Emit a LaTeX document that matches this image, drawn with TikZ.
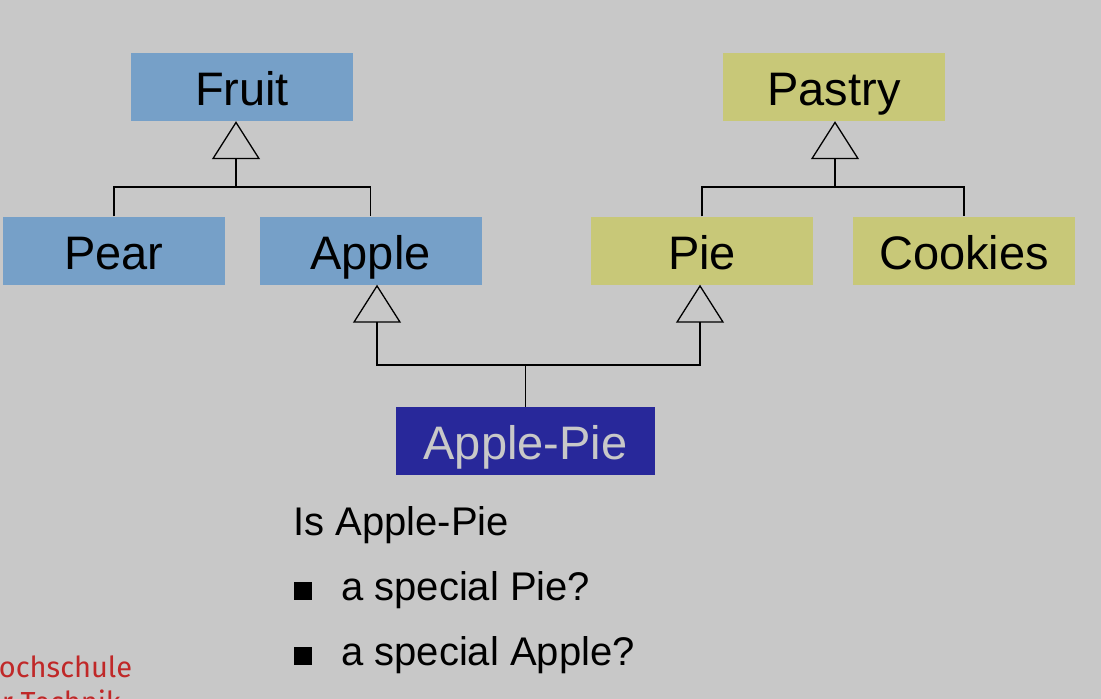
\documentclass[tikz,border=0pt]{standalone}
\usepackage{fontspec}
\setmainfont{Liberation Sans}
\newfontfamily\logofont{Fira Sans}
\usetikzlibrary{arrows.meta}
\definecolor{bggray}{RGB}{200,200,200}
\definecolor{fruitblue}{RGB}{118,160,200}
\definecolor{pastryolive}{RGB}{200,200,120}
\definecolor{pienavy}{RGB}{40,40,154}
\definecolor{logored}{RGB}{192,40,40}
\tikzset{
  classbox/.style={
    minimum width=222pt, minimum height=68pt, inner sep=0pt,
    text height=37pt, text depth=0pt,
    font=\fontsize{47}{56}\selectfont
  },
  fruitbox/.style={classbox, fill=fruitblue},
  pastrybox/.style={classbox, fill=pastryolive},
  listline/.style={anchor=base west, inner sep=0pt,
    font=\fontsize{40}{48}\selectfont},
  logoline/.style={anchor=base west, inner sep=0pt, text=logored,
    font=\logofont\fontsize{29}{33}\selectfont},
  gen/.style={line width=1.3pt,
    -{Triangle[open,length=38pt,width=48pt]}},
  link/.style={line width=1.3pt}
}

\begin{document}
\begin{tikzpicture}[x=1pt,y=-1pt]
\path[use as bounding box, fill=bggray] (0,0) rectangle (1101,699);
\clip (0,0) rectangle (1101,699);
% classes
\node[fruitbox] (fruit) at (242,87) {Fruit};
\node[pastrybox] (pastry) at (834,87) {Pastry};
\node[fruitbox] (pear) at (114,250.5) {Pear};
\node[fruitbox] (apple) at (370.5,250.5) {Apple};
\node[pastrybox] (pie) at (702,250.5) {Pie};
\node[pastrybox] (cookies) at (964,250.5) {Cookies};
\node[classbox, minimum width=259pt, fill=pienavy, text=bggray]
  (applepie) at (525.5,441) {Apple-Pie};
% inheritance lines
\coordinate (frjoin) at (236,187);
\coordinate (pajoin) at (835,187);
\coordinate (apjoin) at (525.5,365);
\draw[link] (pear.north) |- (frjoin) -| (apple.north);
\draw[gen] (frjoin) -- ([xshift=-6pt]fruit.south);
\draw[link] (pie.north) |- (pajoin) -| (cookies.north);
\draw[gen] (pajoin) -- ([xshift=1pt]pastry.south);
\draw[link] (applepie.north) -- (apjoin);
\draw[gen] (apjoin) -| ([xshift=6.5pt]apple.south);
\draw[gen] (apjoin) -| ([xshift=-2pt]pie.south);
% question
\node[listline] (question) at (293,535) {Is Apple-Pie};
\node[listline] (askpie) at (294,600)
  {\rule{18pt}{18pt}\hspace{29pt}a special Pie?};
\node[listline] (askapple) at (294,665)
  {\rule{18pt}{18pt}\hspace{29pt}a special Apple?};
% logo, cut off by the page edge
\node[logoline] (logotop) at (-21,677) {Hochschule};
\node[logoline] (logobottom) at (-25,712) {für Technik};
\end{tikzpicture}
\end{document}
